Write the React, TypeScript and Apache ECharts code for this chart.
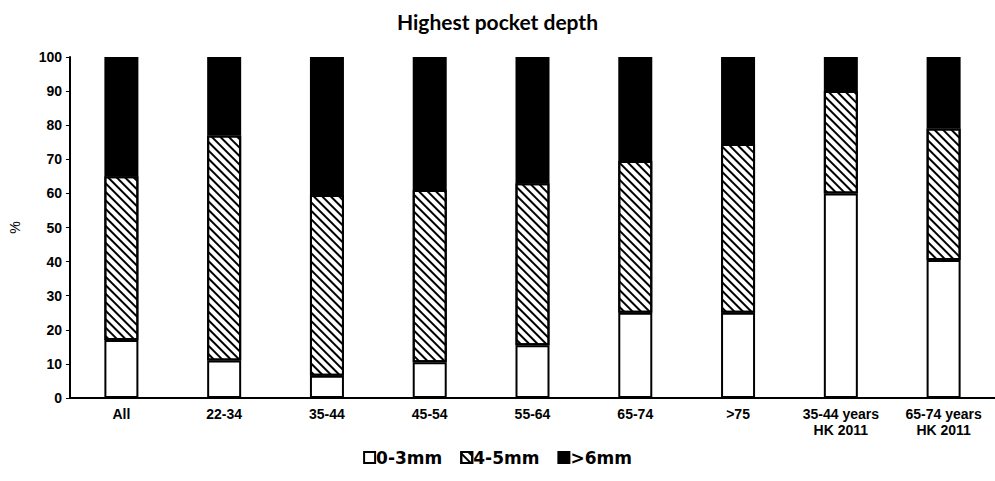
import React, { useEffect, useRef } from "react";
import * as echarts from "echarts";

const categories = ["All", "22-34", "35-44", "45-54", "55-64", "65-74", ">75", "35-44 years\nHK 2011", "65-74 years\nHK 2011"];
const shallow = [17, 11, 6.5, 10.5, 15.5, 25, 25, 60, 40.5];
const moderate = [48, 66, 53, 50.5, 47.5, 44.5, 49.5, 30, 38.5];
const deep = [35, 23, 40.5, 39, 37, 30.5, 25.5, 10, 21];
const yTicks = { min: 0, max: 100, interval: 10 };

export default function App() {
  const ref = useRef<HTMLDivElement>(null);
  useEffect(() => {
    if (!ref.current) return;
    const chart = echarts.init(ref.current, null, { renderer: "svg" });
    const fam = "'Liberation Sans', Arial, sans-serif";
    const labelFont = { fontFamily: fam, fontWeight: "bold" as const, color: "#000" };
    const base = {
      type: "bar" as const,
      stack: "s",
      barWidth: 34,
    };
    chart.setOption({
      animation: false,
      title: {
        text: "Highest pocket depth",
        left: "center",
        top: 6,
        textStyle: { fontFamily: "Lato, 'Open Sans', sans-serif", fontWeight: "bold", fontSize: 21, color: "#000" },
      },
      legend: {
        bottom: 10,
        left: "center",
        itemWidth: 11,
        itemHeight: 11,
        itemGap: 18,
        icon: "rect",
        textStyle: { fontFamily: "'DejaVu Sans', sans-serif", fontWeight: "bold", color: "#000", fontSize: 17, padding: [0, 0, 0, -4] },
        data: ["0-3mm", "4-5mm", ">6mm"],
      },
      grid: { left: 68, top: 57, width: 937, height: 341 },
      xAxis: {
        type: "category",
        data: categories,
        axisLine: { lineStyle: { color: "#000", width: 2 } },
        axisTick: { alignWithLabel: true, length: 3, lineStyle: { color: "#000", width: 1 } },
        axisLabel: { ...labelFont, fontSize: 14, margin: 8, lineHeight: 16 },
      },
      yAxis: {
        type: "value",
        ...yTicks,
        name: "%",
        nameLocation: "middle",
        nameGap: 48,
        nameTextStyle: { fontFamily: fam, fontSize: 14, color: "#000" },
        splitLine: { show: false },
        axisLine: { show: true, lineStyle: { color: "#000", width: 2 } },
        axisTick: { show: true, length: 4, lineStyle: { color: "#000", width: 1 } },
        axisLabel: { ...labelFont, fontSize: 14, margin: 8 },
      },
      series: [
        {
          ...base,
          name: "0-3mm",
          data: shallow,
          itemStyle: { color: "#fff", borderColor: "#000", borderWidth: 2 },
        },
        {
          ...base,
          name: "4-5mm",
          data: moderate,
          itemStyle: {
            color: "#fff",
            borderColor: "#000",
            borderWidth: 2,
            decal: {
              symbol: "rect",
              symbolSize: 1,
              color: "#000",
              dashArrayX: [1, 0],
              dashArrayY: [2, 4],
              rotation: Math.PI / 4,
            },
          },
        },
        {
          ...base,
          name: ">6mm",
          data: deep,
          itemStyle: { color: "#000", borderColor: "#000", borderWidth: 2 },
        },
      ],
    });
    return () => chart.dispose();
  }, []);
  return <div ref={ref} style={{ width: 995, height: 481, position: "absolute", left: 0, top: 0 }} />;
}
